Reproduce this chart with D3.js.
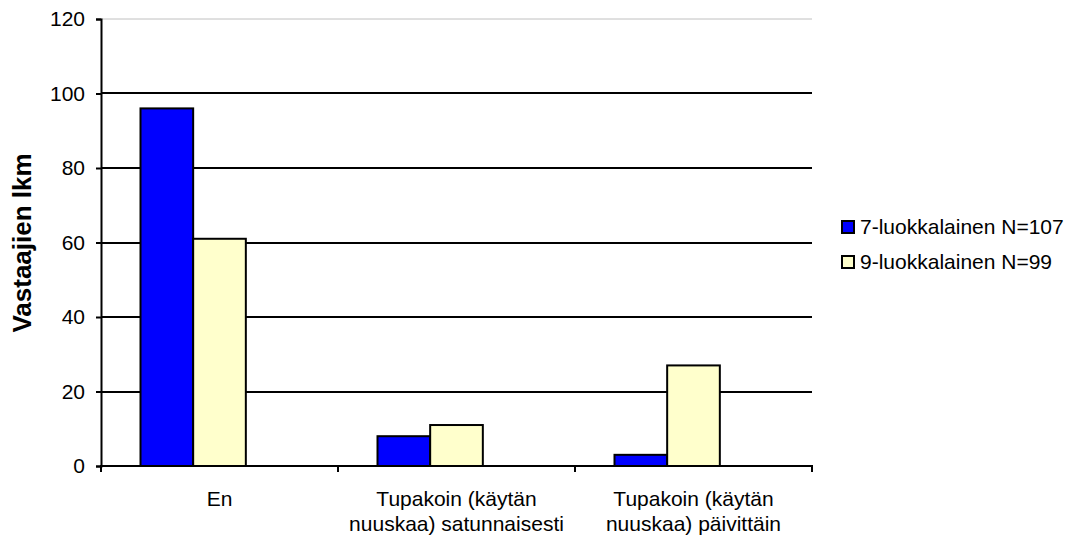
<!DOCTYPE html>
<html>
<head>
<meta charset="utf-8">
<script src="https://cdn.jsdelivr.net/npm/d3@7"></script>
<style>
  body { margin: 0; background: #fff; }
  svg { display: block; font-family: "Liberation Sans", Arial, sans-serif; }
</style>
</head>
<body>
<svg id="chart" width="1076" height="538"></svg>
<script>
// Answer categories (each label split over lines)
const categories = ["En", "Tupakoin (käytän nuuskaa) satunnaisesti", "Tupakoin (käytän nuuskaa) päivittäin"];
const categoryLines = [["En"], ["Tupakoin (käytän", "nuuskaa) satunnaisesti"], ["Tupakoin (käytän", "nuuskaa) päivittäin"]];
const seriesNames = ["7-luokkalainen N=107", "9-luokkalainen N=99"];
const grade7 = [96, 8, 3];
const grade9 = [61, 11, 27];
const yTicks = [0, 20, 40, 60, 80, 100, 120];
const colors = ["#0000FF", "#FFFFCC"];

const svg = d3.select("#chart");
const plot = { left: 101, right: 812, top: 19, bottom: 466 };
const FONT = "Liberation Sans, Arial, sans-serif";

const x = d3.scaleBand().domain(categories).range([plot.left, plot.right]).paddingInner(0).paddingOuter(0);
const y = d3.scaleLinear().domain([0, 120]).range([plot.bottom, plot.top]);

// Each category holds three bar slots plus a 150% gap; the two series use the first two slots
const bw = x.bandwidth() / (3 + 1.5);
const xs = d3.scaleBand().domain([0, 1, 2]).range([0, 3 * bw]);

// Horizontal gridlines
svg.append("g")
  .selectAll("line")
  .data(yTicks.filter(d => d > 0))
  .join("line")
  .attr("x1", plot.left).attr("x2", plot.right)
  .attr("y1", d => Math.round(y(d))).attr("y2", d => Math.round(y(d)))
  .attr("stroke", d => d === 120 ? "#c0c0c0" : "#000")
  .attr("stroke-width", d => d === 120 ? 1 : 2);

// Bars
const data = [grade7, grade9];
const groups = svg.append("g")
  .selectAll("g")
  .data(categories)
  .join("g")
  .attr("transform", c => `translate(${x(c) + (x.bandwidth() - 3 * bw) / 2},0)`);

groups.selectAll("rect")
  .data((c, i) => data.map((s, k) => ({ k, v: s[i] })))
  .join("rect")
  .attr("x", d => xs(d.k))
  .attr("width", bw)
  .attr("y", d => y(d.v))
  .attr("height", d => y(0) - y(d.v))
  .attr("fill", d => colors[d.k])
  .attr("stroke", "#000")
  .attr("stroke-width", 2);

// Y axis
const yAxis = d3.axisLeft(y).tickValues(yTicks).tickSize(5).tickPadding(11).tickFormat(d3.format("d"));
const yg = svg.append("g").attr("transform", `translate(${plot.left},0)`).call(yAxis);
yg.attr("font-size", null).attr("font-family", null);
yg.select(".domain").attr("stroke", "#000").attr("stroke-width", 2);
yg.selectAll(".tick line").attr("stroke", "#000").attr("stroke-width", 2);
yg.selectAll(".tick text").style("font-size", "21px").style("font-family", FONT).attr("fill", "#000");

// X axis with ticks at category boundaries
const xg = svg.append("g").attr("transform", `translate(0,${plot.bottom})`);
xg.append("line").attr("x1", plot.left - 1).attr("x2", plot.right + 1).attr("stroke", "#000").attr("stroke-width", 2);
const boundaries = categories.map(c => x(c)).concat([plot.right]);
xg.selectAll("line.tick")
  .data(boundaries)
  .join("line")
  .attr("class", "tick")
  .attr("x1", d => d).attr("x2", d => d)
  .attr("y1", 0).attr("y2", 6)
  .attr("stroke", "#000").attr("stroke-width", 2);

xg.selectAll("text")
  .data(categories)
  .join("text")
  .attr("x", c => x(c) + x.bandwidth() / 2)
  .attr("y", 40)
  .attr("text-anchor", "middle")
  .style("font-size", "21px")
  .attr("fill", "#000")
  .each(function (c, i) {
    d3.select(this).selectAll("tspan")
      .data(categoryLines[i])
      .join("tspan")
      .attr("x", x(c) + x.bandwidth() / 2)
      .attr("dy", (d, j) => j === 0 ? 0 : 25)
      .text(d => d);
  });

// Y axis title
svg.append("text")
  .attr("transform", "translate(31,243) rotate(-90)")
  .attr("text-anchor", "middle")
  .style("font-size", "26px")
  .attr("font-weight", "bold")
  .attr("fill", "#000")
  .text("Vastaajien lkm");

// Legend
const legend = svg.append("g").attr("transform", "translate(842,221)");
const li = legend.selectAll("g")
  .data(seriesNames)
  .join("g")
  .attr("transform", (d, i) => `translate(0,${i * 35})`);
li.append("rect")
  .attr("x", 0).attr("y", 0).attr("width", 12).attr("height", 12)
  .attr("fill", (d, i) => colors[i])
  .attr("stroke", "#000").attr("stroke-width", 2);
li.append("text")
  .attr("x", 18).attr("y", 13)
  .style("font-size", "21px")
  .attr("fill", "#000")
  .text(d => d);
</script>
</body>
</html>
